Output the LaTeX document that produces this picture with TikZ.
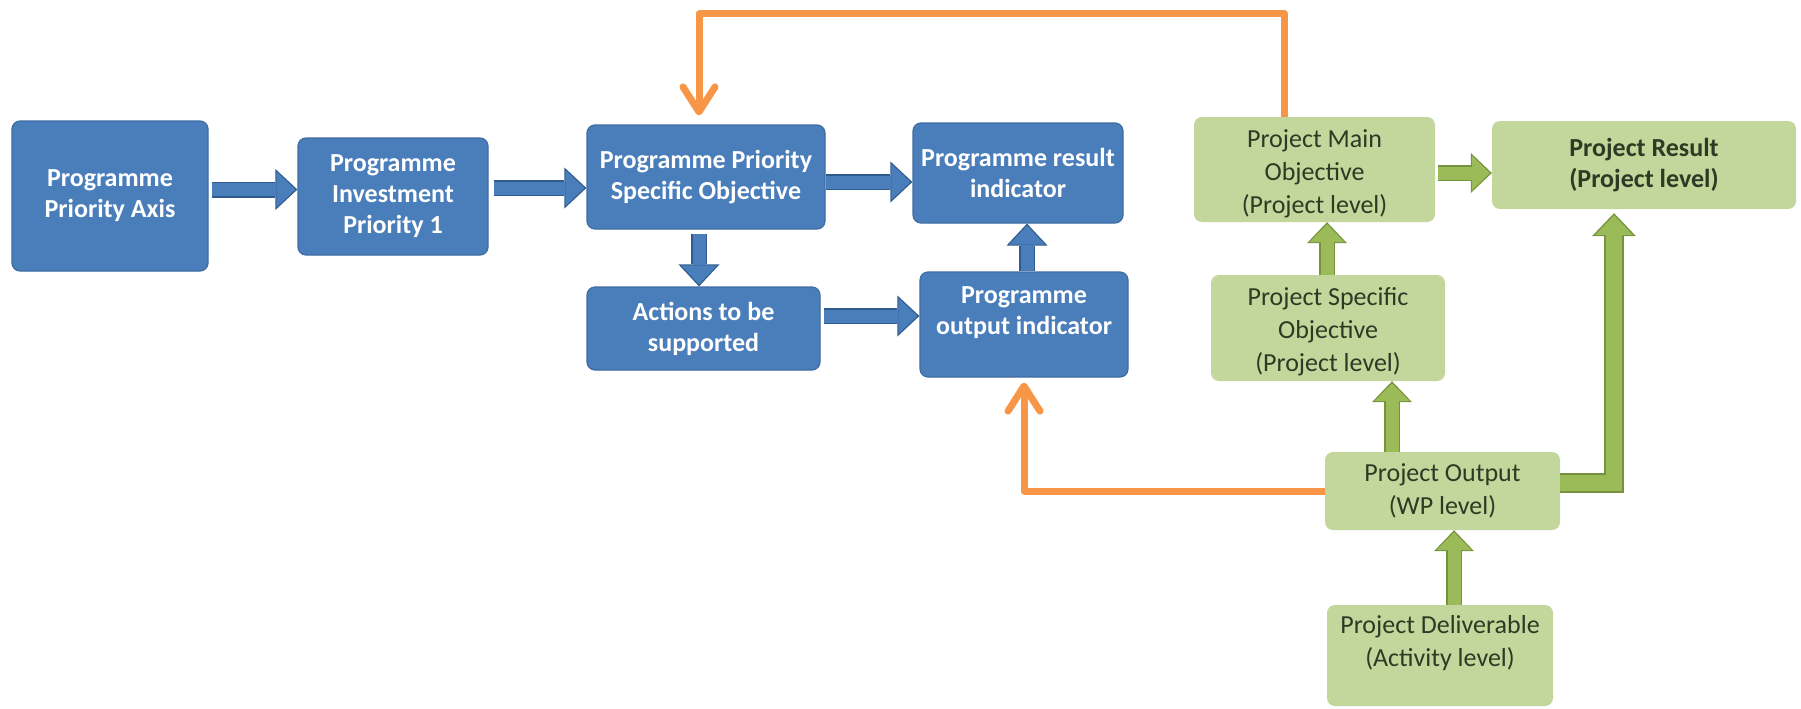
\documentclass[tikz,border=0pt]{standalone}
\usepackage{fontspec}
\setmainfont{Carlito}
\usetikzlibrary{arrows.meta}

\definecolor{bluefill}{HTML}{4A7EBB}
\definecolor{blueedge}{HTML}{3F6DA3}
\definecolor{bluearrowedge}{HTML}{2F5B8E}
\definecolor{greenfill}{HTML}{C3D69B}
\definecolor{greenarrowfill}{HTML}{9BBB59}
\definecolor{greenedge}{HTML}{76923C}
\definecolor{greentext}{HTML}{2E3A24}
\definecolor{orangeline}{HTML}{F79646}

\tikzset{
  btext/.style={text=white, font=\bfseries\fontsize{26}{31}\selectfont, align=center},
  gtext/.style={text=greentext, font=\fontsize{26}{33}\selectfont, align=center},
  bluebox/.style={rectangle, rounded corners=8pt, fill=bluefill, draw=blueedge,
    line width=1.2pt, inner sep=0pt, btext},
  greenbox/.style={rectangle, rounded corners=8pt, fill=greenfill, inner sep=0pt, gtext},
  boxsize/.style 2 args={minimum width=#1pt, minimum height=#2pt},
  bluearrow/.style={draw=bluefill, line width=13pt,
    -{Triangle[length=19pt,width=36pt,line width=0pt]}, shorten >=2pt,
    preaction={draw=bluearrowedge, line width=16pt,
      -{Triangle[length=22pt,width=41pt,line width=0pt]}, shorten >=0pt}},
  greenarrow/.style={draw=greenarrowfill, line width=13pt,
    -{Triangle[length=18pt,width=35pt,line width=0pt]}, shorten >=2pt,
    preaction={draw=greenedge, line width=16pt,
      -{Triangle[length=21pt,width=40pt,line width=0pt]}, shorten >=0pt}},
  greenbig/.style={draw=greenarrowfill, line width=16pt, line join=miter,
    -{Triangle[length=20pt,width=38pt,line width=0pt]}, shorten >=6pt,
    preaction={draw=greenedge, line width=20pt, line join=miter,
      -{Triangle[length=23pt,width=44pt,line width=0pt]}, shorten >=4pt}},
  feedback/.style={draw=orangeline, line width=7pt, line join=round,
    -{Straight Barb[length=25pt,width=32pt,line cap=round,line join=round]}},
}

\begin{document}
\begin{tikzpicture}[x=1pt, y=-1pt]
  \fill[white] (0,0) rectangle (1801,709);
  \useasboundingbox (0,0) rectangle (1801,709);

  % programme level
  \node[bluebox, boxsize={196}{150}] (A) at (110,196) {Programme\\Priority Axis};
  \node[bluebox, boxsize={190}{117}] (B) at (393,196.5) {Programme\\Investment\\Priority 1};
  \node[bluebox, boxsize={238}{104}] (C) at (706,177) {Programme Priority\\Specific Objective};
  \node[bluebox, boxsize={210}{100}] (D) at (1018,173) {Programme result\\indicator};
  \node[bluebox, boxsize={233}{83}] (E) at (703.5,328.5) {Actions to be\\supported};
  \node[bluebox, boxsize={208}{105},
        label={[btext, yshift=12pt]center:{Programme\\output indicator}}] (F) at (1024,324.5) {};

  % project level
  \node[greenbox, boxsize={241}{105},
        label={[gtext, yshift=-4pt]center:{Project Main\\Objective\\(Project level)}}] (G) at (1314.5,169.5) {};
  \node[greenbox, boxsize={304}{88}, font=\bfseries\fontsize{26}{31}\selectfont] (H) at (1644,165) {Project Result\\(Project level)};
  \node[greenbox, boxsize={234}{106},
        label={[gtext, yshift=-4pt]center:{Project Specific\\Objective\\(Project level)}}] (I) at (1328,328) {};
  \node[greenbox, boxsize={235}{78}] (J) at (1442.5,491) {Project Output\\(WP level)};
  \node[greenbox, boxsize={226}{101},
        label={[gtext, yshift=12pt]center:{Project Deliverable\\(Activity level)}}] (K) at (1440,655.5) {};

  % programme chain
  \draw[bluearrow, shorten <=3pt] ([yshift=6.5pt]A.east) -- ([yshift=7pt]B.west);
  \draw[bluearrow, shorten <=5pt] ([yshift=8.5pt]B.east) -- ([yshift=-11pt]C.west);
  \draw[bluearrow] ([yshift=-5pt]C.east) -- ([yshift=-9pt]D.west);
  \draw[bluearrow, shorten <=4pt] ([xshift=-7pt]C.south) -- ([xshift=-4.5pt]E.north);
  \draw[bluearrow, shorten <=3pt] ([yshift=12.5pt]E.east) -- ([yshift=8.5pt]F.west);
  \draw[bluearrow] ([xshift=3pt]F.north) -- ([xshift=9pt]D.south);

  % project chain
  \draw[greenarrow, shorten <=3pt] ([yshift=-3.5pt]G.east) -- ([yshift=-8pt]H.west);
  \draw[greenarrow] ([xshift=-1pt]I.north) -- ([xshift=12.5pt]G.south);
  \draw[greenarrow] ([xshift=-50.5pt]J.north) -- ([xshift=64pt]I.south);
  \draw[greenarrow] ([xshift=14pt]K.north) -- ([xshift=11.5pt]J.south);
  \draw[greenbig] ([yshift=8pt]J.east) -| ([xshift=-30pt]H.south);

  % feedback loops
  \coordinate (looptop) at (0,14);
  \coordinate (fbstart) at ([xshift=-30pt]G.north);
  \coordinate (fbend) at ([xshift=-7pt]C.north);
  \draw[feedback, shorten >=9pt] (fbstart) |- (looptop -| fbend) -- (fbend);
  \draw[feedback, shorten >=5pt] (J.west) -| (F.south);
\end{tikzpicture}
\end{document}
